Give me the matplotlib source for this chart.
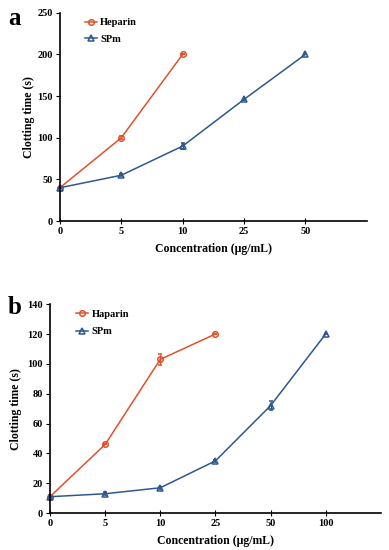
import matplotlib.pyplot as plt
from matplotlib.lines import Line2D

plt.rcParams['font.family'] = ['Liberation Serif', 'DejaVu Serif']
plt.rcParams['font.weight'] = 'bold'

RED = '#E0512B'
BLUE = '#2E578E'

# panel a
a_labels = ['0', '5', '10', '25', '50']
a_hep = [40, 100, 200]
a_hep_err = [0, 2, 0]
a_spm = [40, 55, 90, 146, 200]
a_spm_err = [0, 1, 4, 1, 0]

# panel b
b_labels = ['0', '5', '10', '25', '50', '100']
b_hep = [11, 46, 103, 120]
b_hep_err = [0, 0, 3.5, 0]
b_spm = [11, 13, 17, 35, 72, 120]
b_spm_err = [1, 1, 0.5, 0.5, 3, 0]

fig = plt.figure(figsize=(3.89, 5.5), dpi=100)
ax1 = fig.add_axes([0.154, 0.598, 0.789, 0.379])
ax2 = fig.add_axes([0.1285, 0.067, 0.8505, 0.380])


def style(ax, labels, ymax, ystep, xmax, ypad):
    for s in ['top', 'right']:
        ax.spines[s].set_visible(False)
    for s in ['left', 'bottom']:
        ax.spines[s].set_linewidth(1.2)
    ax.set_xlim(0, xmax)
    ax.set_ylim(0, ymax)
    ax.set_xticks(range(len(labels)))
    ax.set_xticklabels(labels)
    ax.set_yticks(range(0, ymax + 1, ystep))
    ax.tick_params(axis='x', direction='inout', length=4, labelsize=7.5, pad=2)
    ax.tick_params(axis='y', direction='out', length=3, labelsize=7.5, pad=2)
    ax.set_xlabel('Concentration (μg/mL)', fontsize=8.5, fontweight='bold', labelpad=5)
    ax.set_ylabel('Clotting time (s)', fontsize=8.5, fontweight='bold', labelpad=ypad)


def series(ax, vals, err, color, marker):
    ax.errorbar(range(len(vals)), vals, yerr=err, color=color, marker=marker,
                markersize=4, markerfacecolor='none', markeredgewidth=1.1,
                linewidth=1.1, capsize=1.5, elinewidth=1, clip_on=False)
    return Line2D([], [], color=color, marker=marker, markersize=4,
                  markerfacecolor='none', markeredgewidth=1.1, linewidth=1.1)


def legend(ax, handles, names, spacing):
    ax.legend(handles, names, loc='upper left', bbox_to_anchor=(0.05, 1.02), frameon=False,
              handlelength=1.2, handletextpad=0.3, labelspacing=spacing,
              prop={'weight': 'bold', 'size': 7.5})


h1 = series(ax1, a_hep, a_hep_err, RED, 'o')
h2 = series(ax1, a_spm, a_spm_err, BLUE, '^')
style(ax1, a_labels, 250, 50, 5, 2)
legend(ax1, [h1, h2], ['Heparin', 'SPm'], 0.7)

h3 = series(ax2, b_hep, b_hep_err, RED, 'o')
h4 = series(ax2, b_spm, b_spm_err, BLUE, '^')
style(ax2, b_labels, 140, 20, 6, 4)
legend(ax2, [h3, h4], ['Haparin', 'SPm'], 0.8)

fig.text(0.02, 0.955, 'a', fontsize=18, fontweight='bold')
fig.text(0.02, 0.43, 'b', fontsize=18, fontweight='bold')

fig.savefig('out.png', dpi=100)
